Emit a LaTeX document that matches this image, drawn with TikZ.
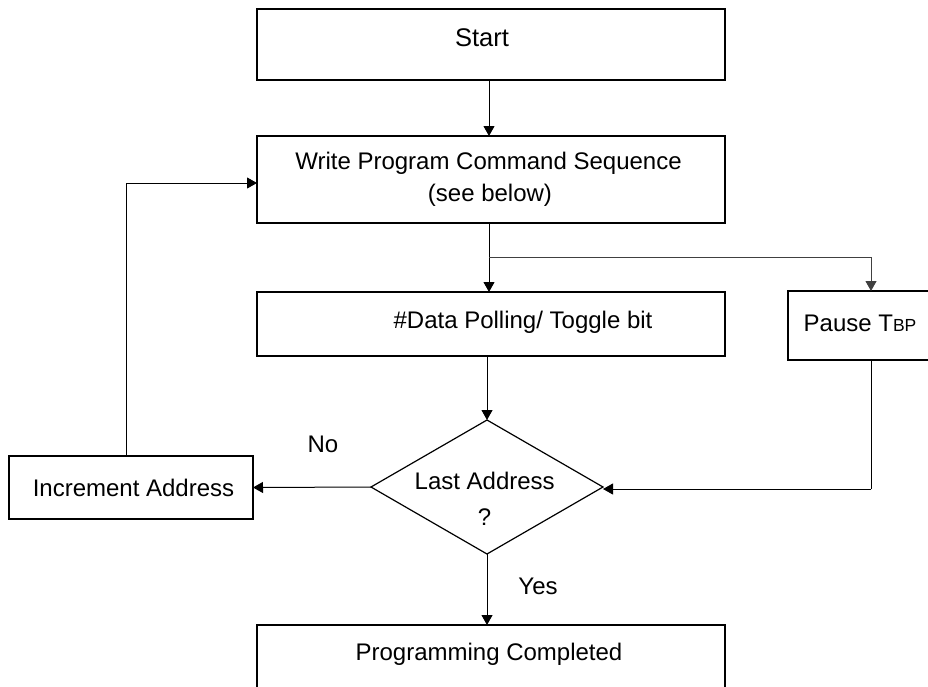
\documentclass[tikz,border=0pt]{standalone}
\usepackage{fontspec}
\setmainfont{Liberation Sans}
\usetikzlibrary{arrows.meta,shapes.geometric}

\tikzset{
  boxstyle/.style={draw, line width=1.3pt, rectangle, inner sep=0pt, outer sep=0pt},
  openbox/.style={rectangle, inner sep=0pt, outer sep=0pt},
  decide/.style={draw, line width=1.2pt, diamond, inner sep=0pt, outer sep=0pt},
  txt/.style={anchor=base, inner sep=0pt, font=\fontsize{24}{28}\selectfont},
  flow/.style={line width=1pt, -{Triangle[length=10pt, width=11pt]}},
  plain/.style={line width=1pt},
}

\begin{document}
\begin{tikzpicture}[x=1pt, y=-1pt]
  \useasboundingbox (0,0) rectangle (928,686);
  \clip (0,0) rectangle (928,686);

  % process boxes
  \node[boxstyle, minimum width=468pt, minimum height=71pt] (start) at (491,44.5) {};
  \node[boxstyle, minimum width=468pt, minimum height=87pt] (write) at (491,179.5) {};
  \node[boxstyle, minimum width=468pt, minimum height=64pt] (poll) at (491,324) {};
  \node[openbox, minimum width=180pt, minimum height=69pt] (pause) at (878,325.5) {};
  \draw[line width=1.3pt] (pause.north east) -- (pause.north west)
        -- (pause.south west) -- (pause.south east);
  \node[decide, minimum width=232pt, minimum height=134pt] (last) at (487,487) {};
  \node[boxstyle, minimum width=244pt, minimum height=63pt] (incr) at (131,487.5) {};
  \node[openbox, minimum width=468pt, minimum height=80pt] (done) at (491,665) {};
  \draw[line width=1.3pt] (done.south west) -- (done.north west)
        -- (done.north east) -- (done.south east);

  % texts
  \node[txt, font=\fontsize{25.5}{30}\selectfont] (tstart) at (482,46.7) {Start};
  \node[txt] (twrite1) at (488.5,169.3) {Write Program Command Sequence};
  \node[txt] (twrite2) at (490,201.7) {(see below)};
  \node[txt] (tpoll) at (523,328.3) {\#Data Polling/ Toggle bit};
  \node[txt] (tpause) at (860,331.7) {Pause T{\fontsize{17.5}{20}\selectfont BP}};
  \node[txt] (tlast1) at (484.7,489.3) {Last Address};
  \node[txt] (tlast2) at (484.5,525) {?};
  \node[txt] (tincr) at (133.5,496.7) {Increment Address};
  \node[txt] (tdone) at (489,660.7) {Programming Completed};
  \node[txt] (tno) at (323,452.7) {No};
  \node[txt] (tyes) at (538,594) {Yes};

  % junction points
  \coordinate (split) at (489,257);
  \coordinate (pausetop) at (871,257);
  \coordinate (pausebot) at (871,489);
  \coordinate (loopup) at (126,183);

  % connectors
  \draw[flow] (start.south -| split) -- (write.north -| split);
  \draw[flow] (write.south -| split) -- (poll.north -| split);
  \draw[flow, draw=black!75] (split) -- (pausetop) -- (pause.north -| pausetop);
  \draw[flow] (poll.south -| last) -- (last.north);
  \draw[flow] (last.west) -- (incr.east);
  \draw[flow] (incr.north -| loopup) -- (loopup) -- (loopup -| write.west);
  \draw[plain] (pause.south -| pausebot) -- (pausebot);
  \draw[flow] (pausebot) -- (pausebot -| last.east);
  \draw[flow] (last.south) -- (done.north -| last);
\end{tikzpicture}
\end{document}
